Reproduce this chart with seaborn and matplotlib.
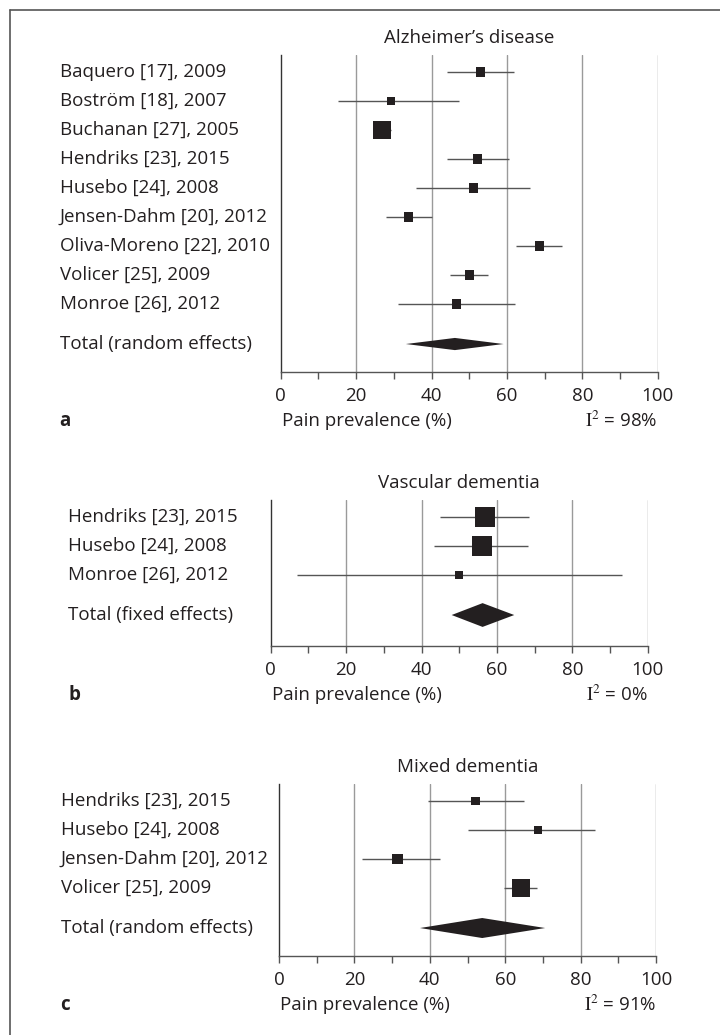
import numpy as np
import pandas as pd
import seaborn as sns
import matplotlib.pyplot as plt
import matplotlib.transforms as mtransforms

W, H = 720, 1035

# a: Alzheimer's disease (random effects)
ad_studies = ['Baquero [17], 2009', 'Boström [18], 2007', 'Buchanan [27], 2005',
              'Hendriks [23], 2015', 'Husebo [24], 2008', 'Jensen-Dahm [20], 2012',
              'Oliva-Moreno [22], 2010', 'Volicer [25], 2009', 'Monroe [26], 2012']
ad_est = [53.0, 29.2, 26.9, 52.2, 51.1, 33.9, 68.6, 50.0, 46.6]
ad_lo = [44.0, 15.1, 24.6, 44.0, 35.8, 27.8, 62.3, 44.9, 31.2]
ad_hi = [61.9, 47.4, 29.2, 60.5, 66.1, 40.0, 74.5, 54.9, 62.2]
ad_weight = [8.5, 6.7, 33.9, 8.5, 8.5, 8.5, 8.5, 8.5, 8.5]
ad_total = [33.2, 46.2, 59.1]   # lower, pooled, upper
ad_i2 = 98

# b: vascular dementia (fixed effects)
vd_studies = ['Hendriks [23], 2015', 'Husebo [24], 2008', 'Monroe [26], 2012']
vd_est = [56.8, 56.0, 49.9]
vd_lo = [44.9, 43.4, 6.9]
vd_hi = [68.6, 68.2, 93.2]
vd_weight = [46.3, 46.3, 7.4]
vd_total = [48.0, 56.2, 64.6]
vd_i2 = 0

# c: mixed dementia (random effects)
md_studies = ['Hendriks [23], 2015', 'Husebo [24], 2008', 'Jensen-Dahm [20], 2012',
              'Volicer [25], 2009']
md_est = [52.2, 68.6, 31.4, 64.2]
md_lo = [39.6, 50.0, 22.0, 59.8]
md_hi = [64.9, 83.7, 42.8, 68.4]
md_weight = [13.7, 10.8, 20.5, 54.9]
md_total = [37.4, 53.9, 70.6]
md_i2 = 91

sns.set_style('white')
plt.rcParams['font.family'] = ['Open Sans', 'DejaVu Sans']
plt.rcParams['mathtext.fontset'] = 'stix'
TXT = '#231f20'
FS = 13.5

fig = plt.figure(figsize=(W / 100, H / 100), dpi=100)


def px(x, y):
    return x / W, 1 - y / H


def panel(studies, est, lo, hi, weight, total, title, total_label, letter, i2,
          left, top, axis_y, label_x, total_pos, max_side, dh):
    # left/top/axis_y in pixels, rows are 29 px apart starting 17 px below top
    row0 = top + 17
    ax = fig.add_axes([left / W, 1 - axis_y / H, 377 / W, (axis_y - top) / H])
    n = len(studies)
    df = pd.DataFrame({'study': studies, 'est': est, 'lo': lo, 'hi': hi,
                       'weight': weight, 'row': np.arange(n)})
    for x in [20, 40, 60, 80, 100]:
        ax.axvline(x, color='#9a9a9a', lw=1, zorder=0)
    ax.hlines(df['row'], df['lo'], df['hi'], color='#555555', lw=1, zorder=1)
    max_area = (max_side * 0.72) ** 2
    sns.scatterplot(data=df, x='est', y='row', size='weight', sizes=(0, max_area),
                    size_norm=(0, max(weight)), marker='s', color=TXT,
                    linewidth=0, legend=False, ax=ax, zorder=2)
    tl, te, th = total
    ax.fill([tl, te, th, te], [total_pos, total_pos - dh, total_pos, total_pos + dh],
            color=TXT, lw=0, zorder=2)
    ax.set_xlim(0, 100)
    ax.set_ylim((axis_y - row0) / 29, (top - row0) / 29)
    ax.set_xticks(range(0, 101, 20))
    ax.set_xticks(range(10, 100, 20), minor=True)
    ax.set_yticks([])
    ax.set_xlabel('')
    ax.set_ylabel('')
    ax.tick_params(axis='x', which='both', direction='out', length=5, width=1,
                   color='#555555', bottom=True, labelsize=FS, labelcolor=TXT, pad=5.5)
    for s in ['top', 'right']:
        ax.spines[s].set_visible(False)
    ax.spines['left'].set_color('#333333')
    ax.spines['left'].set_linewidth(1)
    ax.spines['bottom'].set_color('#555555')
    ax.spines['bottom'].set_linewidth(1)
    fig.text(*px(left + 188.5, top - 17), title, fontsize=FS, color=TXT,
             ha='center', va='center')

    tr = mtransforms.blended_transform_factory(fig.transFigure, ax.transData)
    for i, s in enumerate(studies):
        ax.text(label_x / W, i, s, transform=tr, ha='left', va='center',
                fontsize=FS, color=TXT)
    ax.text(label_x / W, total_pos, total_label, transform=tr, ha='left',
            va='center', fontsize=FS, color=TXT)

    ly = axis_y + 49
    fig.text(*px(label_x, ly), letter, fontsize=FS, fontweight='bold',
             color=TXT, ha='left', va='center')
    fig.text(*px(left + 1, ly), 'Pain prevalence (%)', fontsize=FS, color=TXT,
             ha='left', va='center')
    fig.text(*px(left + 377, ly), r'$\mathrm{I}^2$ = %d%%' % i2, fontsize=FS,
             color=TXT, ha='right', va='center')


panel(ad_studies, ad_est, ad_lo, ad_hi, ad_weight, ad_total, 'Alzheimer’s disease',
      'Total (random effects)', 'a', ad_i2,
      left=280.7, top=55, axis_y=372, label_x=59.5, total_pos=9.38, max_side=18, dh=0.21)
panel(vd_studies, vd_est, vd_lo, vd_hi, vd_weight, vd_total, 'Vascular dementia',
      'Total (fixed effects)', 'b', vd_i2,
      left=270.7, top=500, axis_y=646, label_x=68.5, total_pos=3.38, max_side=20, dh=0.41)
panel(md_studies, md_est, md_lo, md_hi, md_weight, md_total, 'Mixed dementia',
      'Total (random effects)', 'c', md_i2,
      left=279, top=784, axis_y=956, label_x=60.5, total_pos=4.38, max_side=18, dh=0.345)

# figure border (top and left edges only)
fig.add_artist(plt.Line2D([10 / W, 1], [1 - 10 / H, 1 - 10 / H], color='#555555', lw=1.2))
fig.add_artist(plt.Line2D([10 / W, 10 / W], [0, 1 - 10 / H], color='#555555', lw=1.2))

fig.savefig('out.png', dpi=100)
